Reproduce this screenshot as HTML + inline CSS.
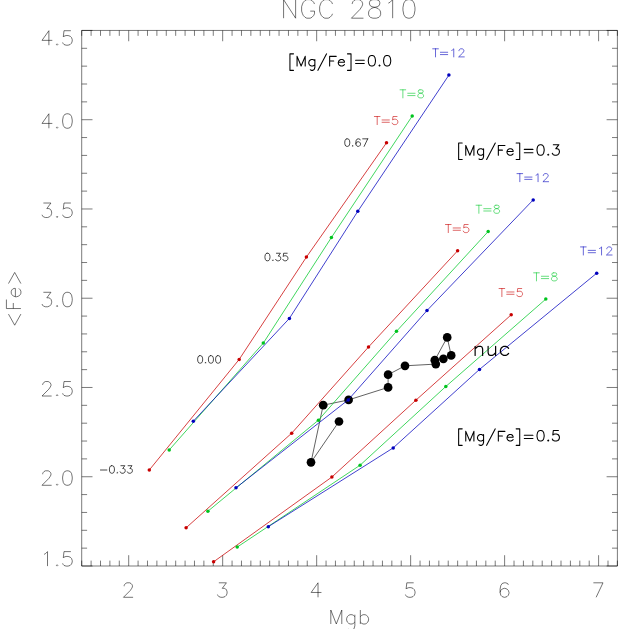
<!DOCTYPE html>
<html><head><meta charset="utf-8"><title>NGC 2810</title>
<style>html,body{margin:0;padding:0;background:#fff;overflow:hidden;font-family:"Liberation Sans",sans-serif}svg{display:block}</style>
</head><body>
<svg width="629" height="629" viewBox="0 0 629 629">
<rect width="629" height="629" fill="#fff"/>
<path d="M81.70 30.45H617.40V566.00H81.70ZM81.70 566.00v-5.40M81.70 30.45v5.40M91.10 566.00v-5.40M91.10 30.45v5.40M100.50 566.00v-5.40M100.50 30.45v5.40M109.89 566.00v-5.40M109.89 30.45v5.40M119.29 566.00v-5.40M119.29 30.45v5.40M128.69 566.00v-10.80M128.69 30.45v10.80M138.09 566.00v-5.40M138.09 30.45v5.40M147.49 566.00v-5.40M147.49 30.45v5.40M156.89 566.00v-5.40M156.89 30.45v5.40M166.28 566.00v-5.40M166.28 30.45v5.40M175.68 566.00v-5.40M175.68 30.45v5.40M185.08 566.00v-5.40M185.08 30.45v5.40M194.48 566.00v-5.40M194.48 30.45v5.40M203.88 566.00v-5.40M203.88 30.45v5.40M213.28 566.00v-5.40M213.28 30.45v5.40M222.67 566.00v-10.80M222.67 30.45v10.80M232.07 566.00v-5.40M232.07 30.45v5.40M241.47 566.00v-5.40M241.47 30.45v5.40M250.87 566.00v-5.40M250.87 30.45v5.40M260.27 566.00v-5.40M260.27 30.45v5.40M269.66 566.00v-5.40M269.66 30.45v5.40M279.06 566.00v-5.40M279.06 30.45v5.40M288.46 566.00v-5.40M288.46 30.45v5.40M297.86 566.00v-5.40M297.86 30.45v5.40M307.26 566.00v-5.40M307.26 30.45v5.40M316.66 566.00v-10.80M316.66 30.45v10.80M326.05 566.00v-5.40M326.05 30.45v5.40M335.45 566.00v-5.40M335.45 30.45v5.40M344.85 566.00v-5.40M344.85 30.45v5.40M354.25 566.00v-5.40M354.25 30.45v5.40M363.65 566.00v-5.40M363.65 30.45v5.40M373.05 566.00v-5.40M373.05 30.45v5.40M382.44 566.00v-5.40M382.44 30.45v5.40M391.84 566.00v-5.40M391.84 30.45v5.40M401.24 566.00v-5.40M401.24 30.45v5.40M410.64 566.00v-10.80M410.64 30.45v10.80M420.04 566.00v-5.40M420.04 30.45v5.40M429.44 566.00v-5.40M429.44 30.45v5.40M438.83 566.00v-5.40M438.83 30.45v5.40M448.23 566.00v-5.40M448.23 30.45v5.40M457.63 566.00v-5.40M457.63 30.45v5.40M467.03 566.00v-5.40M467.03 30.45v5.40M476.43 566.00v-5.40M476.43 30.45v5.40M485.82 566.00v-5.40M485.82 30.45v5.40M495.22 566.00v-5.40M495.22 30.45v5.40M504.62 566.00v-10.80M504.62 30.45v10.80M514.02 566.00v-5.40M514.02 30.45v5.40M523.42 566.00v-5.40M523.42 30.45v5.40M532.82 566.00v-5.40M532.82 30.45v5.40M542.21 566.00v-5.40M542.21 30.45v5.40M551.61 566.00v-5.40M551.61 30.45v5.40M561.01 566.00v-5.40M561.01 30.45v5.40M570.41 566.00v-5.40M570.41 30.45v5.40M579.81 566.00v-5.40M579.81 30.45v5.40M589.21 566.00v-5.40M589.21 30.45v5.40M598.60 566.00v-10.80M598.60 30.45v10.80M608.00 566.00v-5.40M608.00 30.45v5.40M617.40 566.00v-5.40M617.40 30.45v5.40M81.70 566.00h10.80M617.40 566.00h-10.80M81.70 548.15h5.40M617.40 548.15h-5.40M81.70 530.30h5.40M617.40 530.30h-5.40M81.70 512.44h5.40M617.40 512.44h-5.40M81.70 494.59h5.40M617.40 494.59h-5.40M81.70 476.74h10.80M617.40 476.74h-10.80M81.70 458.89h5.40M617.40 458.89h-5.40M81.70 441.04h5.40M617.40 441.04h-5.40M81.70 423.19h5.40M617.40 423.19h-5.40M81.70 405.34h5.40M617.40 405.34h-5.40M81.70 387.48h10.80M617.40 387.48h-10.80M81.70 369.63h5.40M617.40 369.63h-5.40M81.70 351.78h5.40M617.40 351.78h-5.40M81.70 333.93h5.40M617.40 333.93h-5.40M81.70 316.08h5.40M617.40 316.08h-5.40M81.70 298.23h10.80M617.40 298.23h-10.80M81.70 280.37h5.40M617.40 280.37h-5.40M81.70 262.52h5.40M617.40 262.52h-5.40M81.70 244.67h5.40M617.40 244.67h-5.40M81.70 226.82h5.40M617.40 226.82h-5.40M81.70 208.97h10.80M617.40 208.97h-10.80M81.70 191.12h5.40M617.40 191.12h-5.40M81.70 173.26h5.40M617.40 173.26h-5.40M81.70 155.41h5.40M617.40 155.41h-5.40M81.70 137.56h5.40M617.40 137.56h-5.40M81.70 119.71h10.80M617.40 119.71h-10.80M81.70 101.86h5.40M617.40 101.86h-5.40M81.70 84.01h5.40M617.40 84.01h-5.40M81.70 66.15h5.40M617.40 66.15h-5.40M81.70 48.30h5.40M617.40 48.30h-5.40M81.70 30.45h10.80M617.40 30.45h-10.80" fill="none" stroke="#000" stroke-width="0.52" />
<path d="M124.17 586.26L124.17 585.57L124.86 584.19L125.54 583.50L126.92 582.81L129.67 582.81L131.04 583.50L131.73 584.19L132.41 585.57L132.41 586.95L131.73 588.33L130.35 590.40L123.48 597.30L133.10 597.30M218.84 582.81L226.40 582.81L222.27 588.33L224.33 588.33L225.71 589.02L226.40 589.71L227.08 591.78L227.08 593.16L226.40 595.23L225.02 596.61L222.96 597.30L220.90 597.30L218.84 596.61L218.15 595.92L217.46 594.54M318.02 582.81L311.15 592.47L321.45 592.47M318.02 582.81L318.02 597.30M413.67 582.81L406.80 582.81L406.12 589.02L406.80 588.33L408.86 587.64L410.93 587.64L412.99 588.33L414.36 589.71L415.05 591.78L415.05 593.16L414.36 595.23L412.99 596.61L410.93 597.30L408.86 597.30L406.80 596.61L406.12 595.92L405.43 594.54M508.34 584.88L507.66 583.50L505.60 582.81L504.22 582.81L502.16 583.50L500.79 585.57L500.10 589.02L500.10 592.47L500.79 595.23L502.16 596.61L504.22 597.30L504.91 597.30L506.97 596.61L508.34 595.23L509.03 593.16L509.03 592.47L508.34 590.40L506.97 589.02L504.91 588.33L504.22 588.33L502.16 589.02L500.79 590.40L500.10 592.47M603.01 582.81L596.14 597.30M593.39 582.81L603.01 582.81M48.88 30.71L42.01 40.37L52.32 40.37M48.88 30.71L48.88 45.20M57.12 43.82L56.44 44.51L57.12 45.20L57.81 44.51L57.12 43.82M70.86 30.71L63.99 30.71L63.31 36.92L63.99 36.23L66.06 35.54L68.12 35.54L70.18 36.23L71.55 37.61L72.24 39.68L72.24 41.06L71.55 43.13L70.18 44.51L68.12 45.20L66.06 45.20L63.99 44.51L63.31 43.82L62.62 42.44M48.88 113.77L42.01 123.43L52.32 123.43M48.88 113.77L48.88 128.26M57.12 126.88L56.44 127.57L57.12 128.26L57.81 127.57L57.12 126.88M66.74 113.77L64.68 114.46L63.31 116.53L62.62 119.98L62.62 122.05L63.31 125.50L64.68 127.57L66.74 128.26L68.12 128.26L70.18 127.57L71.55 125.50L72.24 122.05L72.24 119.98L71.55 116.53L70.18 114.46L68.12 113.77L66.74 113.77M43.38 203.03L50.94 203.03L46.82 208.55L48.88 208.55L50.25 209.24L50.94 209.93L51.63 212.00L51.63 213.38L50.94 215.45L49.57 216.83L47.51 217.52L45.45 217.52L43.38 216.83L42.70 216.14L42.01 214.76M57.12 216.14L56.44 216.83L57.12 217.52L57.81 216.83L57.12 216.14M70.86 203.03L63.99 203.03L63.31 209.24L63.99 208.55L66.06 207.86L68.12 207.86L70.18 208.55L71.55 209.93L72.24 212.00L72.24 213.38L71.55 215.45L70.18 216.83L68.12 217.52L66.06 217.52L63.99 216.83L63.31 216.14L62.62 214.76M43.38 292.29L50.94 292.29L46.82 297.81L48.88 297.81L50.25 298.50L50.94 299.19L51.63 301.26L51.63 302.64L50.94 304.71L49.57 306.09L47.51 306.78L45.45 306.78L43.38 306.09L42.70 305.40L42.01 304.02M57.12 305.40L56.44 306.09L57.12 306.78L57.81 306.09L57.12 305.40M66.74 292.29L64.68 292.98L63.31 295.05L62.62 298.50L62.62 300.57L63.31 304.02L64.68 306.09L66.74 306.78L68.12 306.78L70.18 306.09L71.55 304.02L72.24 300.57L72.24 298.50L71.55 295.05L70.18 292.98L68.12 292.29L66.74 292.29M42.70 384.99L42.70 384.30L43.38 382.92L44.07 382.23L45.45 381.54L48.19 381.54L49.57 382.23L50.25 382.92L50.94 384.30L50.94 385.68L50.25 387.06L48.88 389.13L42.01 396.03L51.63 396.03M57.12 394.65L56.44 395.34L57.12 396.03L57.81 395.34L57.12 394.65M70.86 381.54L63.99 381.54L63.31 387.75L63.99 387.06L66.06 386.37L68.12 386.37L70.18 387.06L71.55 388.44L72.24 390.51L72.24 391.89L71.55 393.96L70.18 395.34L68.12 396.03L66.06 396.03L63.99 395.34L63.31 394.65L62.62 393.27M42.70 474.25L42.70 473.56L43.38 472.18L44.07 471.49L45.45 470.80L48.19 470.80L49.57 471.49L50.25 472.18L50.94 473.56L50.94 474.94L50.25 476.32L48.88 478.39L42.01 485.29L51.63 485.29M57.12 483.91L56.44 484.60L57.12 485.29L57.81 484.60L57.12 483.91M66.74 470.80L64.68 471.49L63.31 473.56L62.62 477.01L62.62 479.08L63.31 482.53L64.68 484.60L66.74 485.29L68.12 485.29L70.18 484.60L71.55 482.53L72.24 479.08L72.24 477.01L71.55 473.56L70.18 471.49L68.12 470.80L66.74 470.80M44.07 554.37L45.45 553.68L47.51 551.61L47.51 566.10M57.12 564.72L56.44 565.41L57.12 566.10L57.81 565.41L57.12 564.72M70.86 551.61L63.99 551.61L63.31 557.82L63.99 557.13L66.06 556.44L68.12 556.44L70.18 557.13L71.55 558.51L72.24 560.58L72.24 561.96L71.55 564.03L70.18 565.41L68.12 566.10L66.06 566.10L63.99 565.41L63.31 564.72L62.62 563.34M283.59 -0.39L283.59 18.20M283.59 -0.39L295.61 18.20M295.61 -0.39L295.61 18.20M314.50 4.04L313.64 2.27L311.92 0.50L310.21 -0.39L306.77 -0.39L305.05 0.50L303.34 2.27L302.48 4.04L301.62 6.69L301.62 11.12L302.48 13.77L303.34 15.54L305.05 17.31L306.77 18.20L310.21 18.20L311.92 17.31L313.64 15.54L314.50 13.77L314.50 11.12M310.21 11.12L314.50 11.12M332.53 4.04L331.68 2.27L329.96 0.50L328.24 -0.39L324.81 -0.39L323.09 0.50L321.37 2.27L320.51 4.04L319.65 6.69L319.65 11.12L320.51 13.77L321.37 15.54L323.09 17.31L324.81 18.20L328.24 18.20L329.96 17.31L331.68 15.54L332.53 13.77M352.29 4.04L352.29 3.15L353.14 1.38L354.00 0.50L355.72 -0.39L359.16 -0.39L360.87 0.50L361.73 1.38L362.59 3.15L362.59 4.92L361.73 6.69L360.01 9.35L351.43 18.20L363.45 18.20M372.90 -0.39L370.32 0.50L369.46 2.27L369.46 4.04L370.32 5.81L372.04 6.69L375.47 7.58L378.05 8.46L379.77 10.23L380.62 12.00L380.62 14.66L379.77 16.43L378.91 17.31L376.33 18.20L372.90 18.20L370.32 17.31L369.46 16.43L368.60 14.66L368.60 12.00L369.46 10.23L371.18 8.46L373.75 7.58L377.19 6.69L378.91 5.81L379.77 4.04L379.77 2.27L378.91 0.50L376.33 -0.39L372.90 -0.39M388.35 3.15L390.07 2.27L392.65 -0.39L392.65 18.20M408.10 -0.39L405.53 0.50L403.81 3.15L402.95 7.58L402.95 10.23L403.81 14.66L405.53 17.31L408.10 18.20L409.82 18.20L412.40 17.31L414.12 14.66L414.97 10.23L414.97 7.58L414.12 3.15L412.40 0.50L409.82 -0.39L408.10 -0.39M330.80 610.03L330.80 624.00M330.80 610.03L336.30 624.00M341.79 610.03L336.30 624.00M341.79 610.03L341.79 624.00M354.85 614.69L354.85 625.73L354.16 628.32L353.47 629.19L352.10 630.05L350.04 630.05L348.66 629.19M354.85 616.68L353.47 615.36L352.10 614.69L350.04 614.69L348.66 615.36L347.29 616.68L346.60 618.68L346.60 620.01L347.29 622.00L348.66 623.34L350.04 624.00L352.10 624.00L353.47 623.34L354.85 622.00M360.34 610.03L360.34 624.00M360.34 616.68L361.72 615.36L363.09 614.69L365.15 614.69L366.53 615.36L367.90 616.68L368.59 618.68L368.59 620.01L367.90 622.00L366.53 623.34L365.15 624.00L363.09 624.00L361.72 623.34L360.34 622.00M8.48 314.09L14.69 325.20L20.90 314.09M6.41 308.54L20.90 308.54M6.41 308.54L6.41 299.52M13.31 308.54L13.31 302.99M15.38 296.74L15.38 288.42L14.00 288.42L12.62 289.11L11.93 289.80L11.24 291.19L11.24 293.27L11.93 294.66L13.31 296.05L15.38 296.74L16.76 296.74L18.83 296.05L20.21 294.66L20.90 293.27L20.90 291.19L20.21 289.80L18.83 288.42M8.48 283.56L14.69 272.45L20.90 283.56" fill="none" stroke="#000" stroke-width="0.55" stroke-linecap="butt" stroke-linejoin="round"/>
<path d="M339.0 421.5L311.0 462.3L323.2 405.2L348.6 399.9L388.1 387.4L388.1 374.7L405.0 365.8L435.8 364.1L434.8 360.2L447.2 337.4L451.2 355.4L443.4 358.8" fill="none" stroke="#000" stroke-width="0.62" />
<circle cx="339.0" cy="421.5" r="4.35" fill="#000"/>
<circle cx="311.0" cy="462.3" r="4.35" fill="#000"/>
<circle cx="323.2" cy="405.2" r="4.35" fill="#000"/>
<circle cx="348.6" cy="399.9" r="4.35" fill="#000"/>
<circle cx="388.1" cy="387.4" r="4.35" fill="#000"/>
<circle cx="388.1" cy="374.7" r="4.35" fill="#000"/>
<circle cx="405.0" cy="365.8" r="4.35" fill="#000"/>
<circle cx="435.8" cy="364.1" r="4.35" fill="#000"/>
<circle cx="434.8" cy="360.2" r="4.35" fill="#000"/>
<circle cx="447.2" cy="337.4" r="4.35" fill="#000"/>
<circle cx="451.2" cy="355.4" r="4.35" fill="#000"/>
<circle cx="443.4" cy="358.8" r="4.35" fill="#000"/>
<path d="M149.3 470.0L239.2 359.4L306.4 257.1L386.5 142.8" fill="none" stroke="#c80000" stroke-width="0.75" />
<path d="M377.19 116.52L377.19 124.60M374.35 116.52L380.02 116.52M382.05 119.98L389.33 119.98M382.05 122.29L389.33 122.29M397.03 116.52L392.98 116.52L392.57 119.98L392.98 119.60L394.19 119.21L395.41 119.21L396.62 119.60L397.44 120.37L397.84 121.52L397.84 122.29L397.44 123.45L396.62 124.22L395.41 124.60L394.19 124.60L392.98 124.22L392.57 123.83L392.17 123.06" fill="none" stroke="#c80000" stroke-width="0.60" stroke-linecap="round" stroke-linejoin="round"/>
<path d="M169.2 450.0L263.3 343.1L331.4 237.5L412.2 116.1" fill="none" stroke="#00c828" stroke-width="0.75" />
<path d="M402.88 89.81L402.88 97.90M400.05 89.81L405.72 89.81M407.75 93.28L415.03 93.28M407.75 95.59L415.03 95.59M419.89 89.81L418.68 90.20L418.27 90.97L418.27 91.74L418.68 92.51L419.49 92.89L421.11 93.28L422.32 93.66L423.13 94.43L423.54 95.20L423.54 96.36L423.13 97.13L422.73 97.51L421.51 97.90L419.89 97.90L418.68 97.51L418.27 97.13L417.87 96.36L417.87 95.20L418.27 94.43L419.08 93.66L420.30 93.28L421.92 92.89L422.73 92.51L423.13 91.74L423.13 90.97L422.73 90.20L421.51 89.81L419.89 89.81" fill="none" stroke="#00c828" stroke-width="0.60" stroke-linecap="round" stroke-linejoin="round"/>
<path d="M193.3 421.2L289.4 318.4L357.8 211.3L448.9 75.1" fill="none" stroke="#0000be" stroke-width="0.75" />
<path d="M435.53 48.81L435.53 56.90M432.70 48.81L438.37 48.81M440.39 52.28L447.69 52.28M440.39 54.59L447.69 54.59M451.73 50.35L452.54 49.97L453.76 48.81L453.76 56.90M459.02 50.74L459.02 50.35L459.43 49.58L459.83 49.20L460.64 48.81L462.26 48.81L463.07 49.20L463.48 49.58L463.88 50.35L463.88 51.12L463.48 51.89L462.67 53.05L458.62 56.90L464.29 56.90" fill="none" stroke="#0000be" stroke-width="0.60" stroke-linecap="round" stroke-linejoin="round"/>
<path d="M186.1 527.8L291.7 433.2L368.5 347.0L457.6 250.8" fill="none" stroke="#c80000" stroke-width="0.75" />
<path d="M448.29 224.52L448.29 232.60M445.45 224.52L451.12 224.52M453.15 227.98L460.44 227.98M453.15 230.29L460.44 230.29M468.13 224.52L464.08 224.52L463.68 227.98L464.08 227.60L465.30 227.21L466.51 227.21L467.73 227.60L468.54 228.37L468.94 229.52L468.94 230.29L468.54 231.45L467.73 232.22L466.51 232.60L465.30 232.60L464.08 232.22L463.68 231.83L463.27 231.06" fill="none" stroke="#c80000" stroke-width="0.60" stroke-linecap="round" stroke-linejoin="round"/>
<path d="M207.9 511.2L318.4 420.2L396.5 331.3L488.2 231.5" fill="none" stroke="#00c828" stroke-width="0.75" />
<path d="M478.88 205.22L478.88 213.30M476.05 205.22L481.72 205.22M483.75 208.68L491.03 208.68M483.75 210.99L491.03 210.99M495.89 205.22L494.68 205.60L494.27 206.37L494.27 207.14L494.68 207.91L495.49 208.30L497.11 208.68L498.32 209.06L499.13 209.84L499.54 210.61L499.54 211.76L499.13 212.53L498.73 212.92L497.51 213.30L495.89 213.30L494.68 212.92L494.27 212.53L493.87 211.76L493.87 210.61L494.27 209.84L495.08 209.06L496.30 208.68L497.92 208.30L498.73 207.91L499.13 207.14L499.13 206.37L498.73 205.60L497.51 205.22L495.89 205.22" fill="none" stroke="#00c828" stroke-width="0.60" stroke-linecap="round" stroke-linejoin="round"/>
<path d="M236.0 487.8L348.2 399.9L427.0 310.5L533.2 199.9" fill="none" stroke="#0000be" stroke-width="0.75" />
<path d="M519.84 173.62L519.84 181.70M517.00 173.62L522.67 173.62M524.70 177.08L531.99 177.08M524.70 179.39L531.99 179.39M536.04 175.16L536.85 174.77L538.06 173.62L538.06 181.70M543.33 175.54L543.33 175.16L543.73 174.39L544.13 174.00L544.95 173.62L546.57 173.62L547.38 174.00L547.78 174.39L548.19 175.16L548.19 175.93L547.78 176.70L546.97 177.85L542.92 181.70L548.59 181.70" fill="none" stroke="#0000be" stroke-width="0.60" stroke-linecap="round" stroke-linejoin="round"/>
<path d="M213.6 561.8L331.9 477.0L415.9 400.2L511.2 314.8" fill="none" stroke="#c80000" stroke-width="0.75" />
<path d="M501.88 288.52L501.88 296.60M499.05 288.52L504.72 288.52M506.75 291.98L514.03 291.98M506.75 294.29L514.03 294.29M521.73 288.52L517.68 288.52L517.27 291.98L517.68 291.60L518.89 291.21L520.11 291.21L521.33 291.60L522.13 292.37L522.54 293.52L522.54 294.29L522.13 295.45L521.33 296.22L520.11 296.60L518.89 296.60L517.68 296.22L517.27 295.83L516.87 295.06" fill="none" stroke="#c80000" stroke-width="0.60" stroke-linecap="round" stroke-linejoin="round"/>
<path d="M237.2 547.1L360.1 465.2L445.8 386.5L545.8 299.1" fill="none" stroke="#00c828" stroke-width="0.75" />
<path d="M536.48 272.82L536.48 280.90M533.65 272.82L539.32 272.82M541.34 276.28L548.63 276.28M541.34 278.59L548.63 278.59M553.50 272.82L552.28 273.20L551.88 273.97L551.88 274.74L552.28 275.51L553.09 275.90L554.71 276.28L555.92 276.67L556.73 277.44L557.14 278.21L557.14 279.36L556.73 280.13L556.33 280.52L555.12 280.90L553.50 280.90L552.28 280.52L551.88 280.13L551.47 279.36L551.47 278.21L551.88 277.44L552.68 276.67L553.90 276.28L555.52 275.90L556.33 275.51L556.73 274.74L556.73 273.97L556.33 273.20L555.12 272.82L553.50 272.82" fill="none" stroke="#00c828" stroke-width="0.60" stroke-linecap="round" stroke-linejoin="round"/>
<path d="M268.3 526.7L393.2 447.9L479.5 369.4L596.7 273.2" fill="none" stroke="#0000be" stroke-width="0.75" />
<path d="M583.34 246.91L583.34 255.00M580.50 246.91L586.17 246.91M588.20 250.38L595.49 250.38M588.20 252.69L595.49 252.69M599.54 248.46L600.35 248.07L601.56 246.91L601.56 255.00M606.83 248.84L606.83 248.46L607.23 247.69L607.63 247.30L608.45 246.91L610.07 246.91L610.88 247.30L611.28 247.69L611.69 248.46L611.69 249.22L611.28 250.00L610.47 251.15L606.42 255.00L612.09 255.00" fill="none" stroke="#0000be" stroke-width="0.60" stroke-linecap="round" stroke-linejoin="round"/>
<circle cx="149.3" cy="470.0" r="1.75" fill="#c80000"/>
<circle cx="239.2" cy="359.4" r="1.75" fill="#c80000"/>
<circle cx="306.4" cy="257.1" r="1.75" fill="#c80000"/>
<circle cx="386.5" cy="142.8" r="1.75" fill="#c80000"/>
<circle cx="169.2" cy="450.0" r="1.75" fill="#00c41e"/>
<circle cx="263.3" cy="343.1" r="1.75" fill="#00c41e"/>
<circle cx="331.4" cy="237.5" r="1.75" fill="#00c41e"/>
<circle cx="412.2" cy="116.1" r="1.75" fill="#00c41e"/>
<circle cx="193.3" cy="421.2" r="1.75" fill="#0000be"/>
<circle cx="289.4" cy="318.4" r="1.75" fill="#0000be"/>
<circle cx="357.8" cy="211.3" r="1.75" fill="#0000be"/>
<circle cx="448.9" cy="75.1" r="1.75" fill="#0000be"/>
<circle cx="186.1" cy="527.8" r="1.75" fill="#c80000"/>
<circle cx="291.7" cy="433.2" r="1.75" fill="#c80000"/>
<circle cx="368.5" cy="347.0" r="1.75" fill="#c80000"/>
<circle cx="457.6" cy="250.8" r="1.75" fill="#c80000"/>
<circle cx="207.9" cy="511.2" r="1.75" fill="#00c41e"/>
<circle cx="318.4" cy="420.2" r="1.75" fill="#00c41e"/>
<circle cx="396.5" cy="331.3" r="1.75" fill="#00c41e"/>
<circle cx="488.2" cy="231.5" r="1.75" fill="#00c41e"/>
<circle cx="236.0" cy="487.8" r="1.75" fill="#0000be"/>
<circle cx="348.2" cy="399.9" r="1.75" fill="#0000be"/>
<circle cx="427.0" cy="310.5" r="1.75" fill="#0000be"/>
<circle cx="533.2" cy="199.9" r="1.75" fill="#0000be"/>
<circle cx="213.6" cy="561.8" r="1.75" fill="#c80000"/>
<circle cx="331.9" cy="477.0" r="1.75" fill="#c80000"/>
<circle cx="415.9" cy="400.2" r="1.75" fill="#c80000"/>
<circle cx="511.2" cy="314.8" r="1.75" fill="#c80000"/>
<circle cx="237.2" cy="547.1" r="1.75" fill="#00c41e"/>
<circle cx="360.1" cy="465.2" r="1.75" fill="#00c41e"/>
<circle cx="445.8" cy="386.5" r="1.75" fill="#00c41e"/>
<circle cx="545.8" cy="299.1" r="1.75" fill="#00c41e"/>
<circle cx="268.3" cy="526.7" r="1.75" fill="#0000be"/>
<circle cx="393.2" cy="447.9" r="1.75" fill="#0000be"/>
<circle cx="479.5" cy="369.4" r="1.75" fill="#0000be"/>
<circle cx="596.7" cy="273.2" r="1.75" fill="#0000be"/>
<path d="M346.90 138.84L345.82 139.20L345.11 140.28L344.75 142.08L344.75 143.16L345.11 144.96L345.82 146.04L346.90 146.40L347.62 146.40L348.70 146.04L349.41 144.96L349.77 143.16L349.77 142.08L349.41 140.28L348.70 139.20L347.62 138.84L346.90 138.84M352.65 145.68L352.29 146.04L352.65 146.40L353.00 146.04L352.65 145.68M360.18 139.92L359.83 139.20L358.75 138.84L358.03 138.84L356.95 139.20L356.24 140.28L355.88 142.08L355.88 143.88L356.24 145.32L356.95 146.04L358.03 146.40L358.39 146.40L359.47 146.04L360.18 145.32L360.54 144.24L360.54 143.88L360.18 142.80L359.47 142.08L358.39 141.72L358.03 141.72L356.95 142.08L356.24 142.80L355.88 143.88M367.72 138.84L364.13 146.40M362.70 138.84L367.72 138.84M267.10 253.24L266.02 253.60L265.31 254.68L264.95 256.48L264.95 257.56L265.31 259.36L266.02 260.44L267.10 260.80L267.82 260.80L268.90 260.44L269.61 259.36L269.97 257.56L269.97 256.48L269.61 254.68L268.90 253.60L267.82 253.24L267.10 253.24M272.85 260.08L272.49 260.44L272.85 260.80L273.20 260.44L272.85 260.08M276.44 253.24L280.38 253.24L278.23 256.12L279.31 256.12L280.02 256.48L280.38 256.84L280.74 257.92L280.74 258.64L280.38 259.72L279.67 260.44L278.59 260.80L277.51 260.80L276.44 260.44L276.08 260.08L275.72 259.36M287.20 253.24L283.62 253.24L283.26 256.48L283.62 256.12L284.69 255.76L285.77 255.76L286.85 256.12L287.56 256.84L287.92 257.92L287.92 258.64L287.56 259.72L286.85 260.44L285.77 260.80L284.69 260.80L283.62 260.44L283.26 260.08L282.90 259.36M199.80 355.64L198.72 356.00L198.01 357.08L197.65 358.88L197.65 359.96L198.01 361.76L198.72 362.84L199.80 363.20L200.52 363.20L201.60 362.84L202.31 361.76L202.67 359.96L202.67 358.88L202.31 357.08L201.60 356.00L200.52 355.64L199.80 355.64M205.54 362.48L205.19 362.84L205.54 363.20L205.90 362.84L205.54 362.48M210.57 355.64L209.49 356.00L208.78 357.08L208.42 358.88L208.42 359.96L208.78 361.76L209.49 362.84L210.57 363.20L211.29 363.20L212.37 362.84L213.08 361.76L213.44 359.96L213.44 358.88L213.08 357.08L212.37 356.00L211.29 355.64L210.57 355.64M217.75 355.64L216.67 356.00L215.96 357.08L215.60 358.88L215.60 359.96L215.96 361.76L216.67 362.84L217.75 363.20L218.47 363.20L219.55 362.84L220.26 361.76L220.62 359.96L220.62 358.88L220.26 357.08L219.55 356.00L218.47 355.64L217.75 355.64M100.44 470.01L106.90 470.01M111.56 465.69L110.49 466.05L109.77 467.13L109.41 468.93L109.41 470.01L109.77 471.81L110.49 472.89L111.56 473.25L112.28 473.25L113.36 472.89L114.08 471.81L114.44 470.01L114.44 468.93L114.08 467.13L113.36 466.05L112.28 465.69L111.56 465.69M117.31 472.53L116.95 472.89L117.31 473.25L117.67 472.89L117.31 472.53M120.90 465.69L124.85 465.69L122.69 468.57L123.77 468.57L124.49 468.93L124.85 469.29L125.21 470.37L125.21 471.09L124.85 472.17L124.13 472.89L123.05 473.25L121.98 473.25L120.90 472.89L120.54 472.53L120.18 471.81M128.08 465.69L132.03 465.69L129.87 468.57L130.95 468.57L131.67 468.93L132.03 469.29L132.39 470.37L132.39 471.09L132.03 472.17L131.31 472.89L130.23 473.25L129.16 473.25L128.08 472.89L127.72 472.53L127.36 471.81" fill="none" stroke="#000" stroke-width="0.72" stroke-linecap="round" stroke-linejoin="round"/>
<path d="M293.50 53.86L289.94 53.86L289.94 70.35L293.50 70.35M297.06 56.34L297.06 66.00M297.06 56.34L301.13 66.00M305.21 56.34L301.13 66.00M305.21 56.34L305.21 66.00M314.88 59.56L314.88 67.24L314.37 69.11L313.86 69.73L312.84 70.35L311.31 70.35L310.30 69.73M314.88 60.94L313.86 60.02L312.84 59.56L311.31 59.56L310.30 60.02L309.28 60.94L308.77 62.32L308.77 63.24L309.28 64.62L310.30 65.54L311.31 66.00L312.84 66.00L313.86 65.54L314.88 64.62M326.58 53.86L317.93 70.35M329.64 56.34L329.64 66.00M329.64 56.34L336.25 56.34M329.64 60.94L333.71 60.94M338.29 62.32L344.40 62.32L344.40 61.40L343.89 60.48L343.38 60.02L342.36 59.56L340.84 59.56L339.82 60.02L338.80 60.94L338.29 62.32L338.29 63.24L338.80 64.62L339.82 65.54L340.84 66.00L342.36 66.00L343.38 65.54L344.40 64.62M347.45 53.86L351.02 53.86L351.02 70.35L347.45 70.35M355.60 60.20L364.25 60.20M355.60 63.52L364.25 63.52M371.38 55.50L369.85 56.00L368.83 57.50L368.32 60.00L368.32 61.50L368.83 64.00L369.85 65.50L371.38 66.00L372.39 66.00L373.92 65.50L374.94 64.00L375.45 61.50L375.45 60.00L374.94 57.50L373.92 56.00L372.39 55.50L371.38 55.50M379.52 65.08L379.01 65.54L379.52 66.00L380.03 65.54L379.52 65.08M386.65 55.50L385.12 56.00L384.10 57.50L383.59 60.00L383.59 61.50L384.10 64.00L385.12 65.50L386.65 66.00L387.66 66.00L389.19 65.50L390.21 64.00L390.72 61.50L390.72 60.00L390.21 57.50L389.19 56.00L387.66 55.50L386.65 55.50M462.20 143.06L458.64 143.06L458.64 159.55L462.20 159.55M465.76 145.54L465.76 155.20M465.76 145.54L469.83 155.20M473.91 145.54L469.83 155.20M473.91 145.54L473.91 155.20M483.58 148.76L483.58 156.44L483.07 158.30L482.56 158.93L481.54 159.55L480.01 159.55L479.00 158.93M483.58 150.14L482.56 149.22L481.54 148.76L480.01 148.76L479.00 149.22L477.98 150.14L477.47 151.52L477.47 152.44L477.98 153.82L479.00 154.74L480.01 155.20L481.54 155.20L482.56 154.74L483.58 153.82M495.28 143.06L486.63 159.55M498.34 145.54L498.34 155.20M498.34 145.54L504.96 145.54M498.34 150.14L502.41 150.14M506.99 151.52L513.10 151.52L513.10 150.60L512.59 149.68L512.08 149.22L511.06 148.76L509.54 148.76L508.52 149.22L507.50 150.14L506.99 151.52L506.99 152.44L507.50 153.82L508.52 154.74L509.54 155.20L511.06 155.20L512.08 154.74L513.10 153.82M516.15 143.06L519.72 143.06L519.72 159.55L516.15 159.55M524.30 149.40L532.95 149.40M524.30 152.72L532.95 152.72M540.08 144.70L538.55 145.20L537.53 146.70L537.02 149.20L537.02 150.70L537.53 153.20L538.55 154.70L540.08 155.20L541.09 155.20L542.62 154.70L543.64 153.20L544.15 150.70L544.15 149.20L543.64 146.70L542.62 145.20L541.09 144.70L540.08 144.70M548.22 154.28L547.71 154.74L548.22 155.20L548.73 154.74L548.22 154.28M553.31 144.70L558.91 144.70L555.86 148.70L557.38 148.70L558.40 149.20L558.91 149.70L559.42 151.20L559.42 152.20L558.91 153.70L557.89 154.70L556.36 155.20L554.84 155.20L553.31 154.70L552.80 154.20L552.29 153.20M462.20 428.86L458.64 428.86L458.64 445.35L462.20 445.35M465.76 431.34L465.76 441.00M465.76 431.34L469.83 441.00M473.91 431.34L469.83 441.00M473.91 431.34L473.91 441.00M483.58 434.56L483.58 442.24L483.07 444.11L482.56 444.73L481.54 445.35L480.01 445.35L479.00 444.73M483.58 435.94L482.56 435.02L481.54 434.56L480.01 434.56L479.00 435.02L477.98 435.94L477.47 437.32L477.47 438.24L477.98 439.62L479.00 440.54L480.01 441.00L481.54 441.00L482.56 440.54L483.58 439.62M495.28 428.86L486.63 445.35M498.34 431.34L498.34 441.00M498.34 431.34L504.96 431.34M498.34 435.94L502.41 435.94M506.99 437.32L513.10 437.32L513.10 436.40L512.59 435.48L512.08 435.02L511.06 434.56L509.54 434.56L508.52 435.02L507.50 435.94L506.99 437.32L506.99 438.24L507.50 439.62L508.52 440.54L509.54 441.00L511.06 441.00L512.08 440.54L513.10 439.62M516.15 428.86L519.72 428.86L519.72 445.35L516.15 445.35M524.30 435.20L532.95 435.20M524.30 438.52L532.95 438.52M540.08 430.50L538.55 431.00L537.53 432.50L537.02 435.00L537.02 436.50L537.53 439.00L538.55 440.50L540.08 441.00L541.09 441.00L542.62 440.50L543.64 439.00L544.15 436.50L544.15 435.00L543.64 432.50L542.62 431.00L541.09 430.50L540.08 430.50M548.22 440.08L547.71 440.54L548.22 441.00L548.73 440.54L548.22 440.08M558.40 430.50L553.31 430.50L552.80 435.00L553.31 434.50L554.84 434.00L556.36 434.00L557.89 434.50L558.91 435.50L559.42 437.00L559.42 438.00L558.91 439.50L557.89 440.50L556.36 441.00L554.84 441.00L553.31 440.50L552.80 440.00L552.29 439.00" fill="none" stroke="#000" stroke-width="1.08" stroke-linecap="round" stroke-linejoin="round"/>
<path d="M475.13 346.30L475.13 355.40M475.13 348.90L477.18 346.95L478.55 346.30L480.60 346.30L481.96 346.95L482.64 348.90L482.64 355.40M488.11 346.30L488.11 352.80L488.79 354.75L490.16 355.40L492.21 355.40L493.57 354.75L495.62 352.80M495.62 346.30L495.62 355.40M508.60 348.25L507.23 346.95L505.87 346.30L503.82 346.30L502.45 346.95L501.09 348.25L500.40 350.20L500.40 351.50L501.09 353.45L502.45 354.75L503.82 355.40L505.87 355.40L507.23 354.75L508.60 353.45" fill="none" stroke="#000" stroke-width="1.20" stroke-linecap="round" stroke-linejoin="round"/>
</svg>
</body></html>
